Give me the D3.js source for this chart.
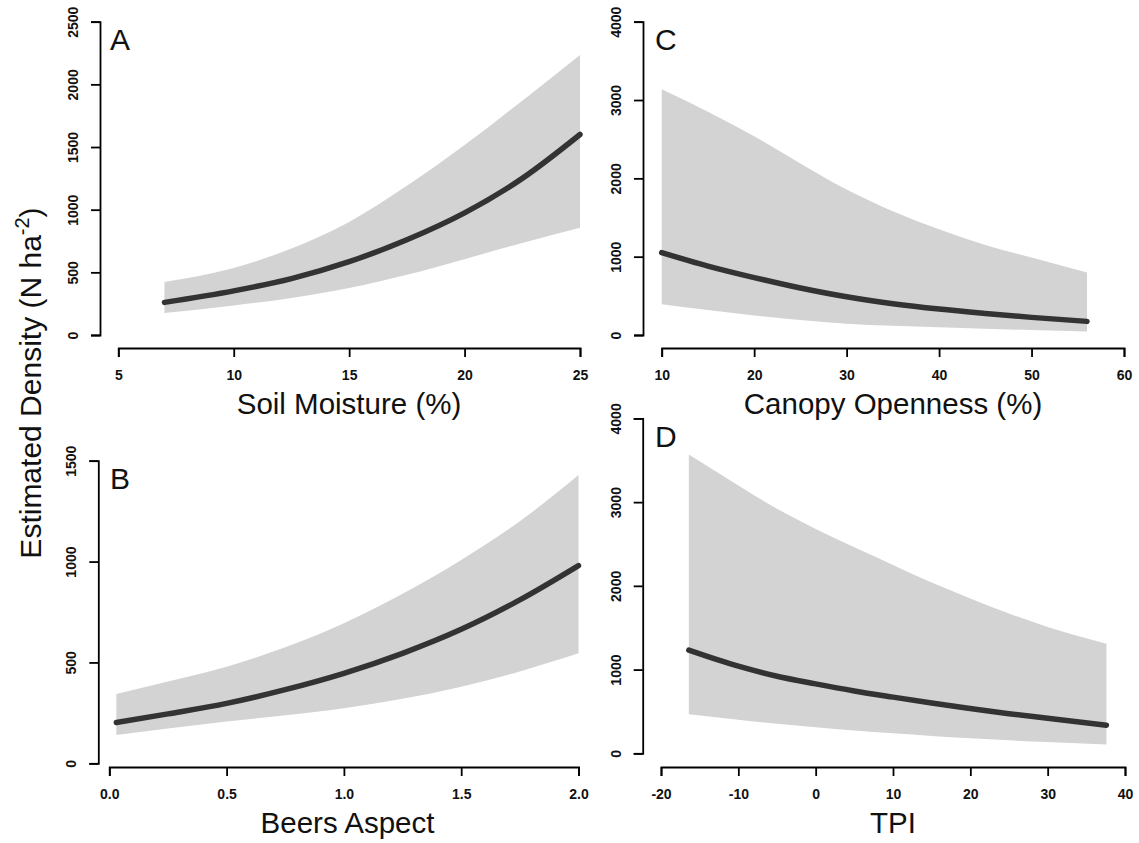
<!DOCTYPE html>
<html>
<head>
<meta charset="utf-8">
<script src="https://cdn.jsdelivr.net/npm/d3@7"></script>
<style>
  html, body { margin: 0; padding: 0; background: #ffffff; }
  svg { display: block; }
</style>
</head>
<body>
<svg id="chart" width="1139" height="843"></svg>
<script>
// ---------- DATA ----------
// Panel A: Soil Moisture (%)
const soilX     = [7, 10, 12.5, 15, 17.5, 20, 22.5, 25];
const soilFit   = [260, 352, 450, 585, 760, 975, 1250, 1600];
const soilUpper = [423, 535, 690, 902, 1190, 1516, 1870, 2234];
const soilLower = [175, 235, 295, 375, 480, 605, 735, 856];
const soilXTicks = [5, 10, 15, 20, 25];
const soilYTicks = [0, 500, 1000, 1500, 2000, 2500];

// Panel B: Beers Aspect
const aspectX     = [0.03, 0.25, 0.5, 0.75, 1.0, 1.25, 1.5, 1.75, 2.0];
const aspectFit   = [202, 245, 297, 365, 446, 545, 664, 810, 980];
const aspectUpper = [344, 405, 479, 575, 694, 840, 1008, 1200, 1429];
const aspectLower = [140, 172, 207, 238, 273, 320, 380, 455, 545];
const aspectXTicks = [0.0, 0.5, 1.0, 1.5, 2.0];
const aspectYTicks = [0, 500, 1000, 1500];

// Panel C: Canopy Openness (%)
const canopyX     = [10, 15, 20, 25, 30, 35, 40, 45, 50, 56];
const canopyFit   = [1052, 880, 733, 600, 488, 400, 331, 275, 225, 174];
const canopyUpper = [3138, 2850, 2536, 2190, 1857, 1580, 1349, 1150, 988, 797];
const canopyLower = [394, 320, 250, 190, 145, 118, 98, 80, 64, 45];
const canopyXTicks = [10, 20, 30, 40, 50, 60];
const canopyYTicks = [0, 1000, 2000, 3000, 4000];

// Panel D: TPI
const tpiX     = [-16.4, -10, -5, 0, 5, 10, 15, 20, 25, 30, 37.6];
const tpiFit   = [1232, 1040, 920, 829, 745, 671, 600, 535, 473, 418, 335];
const tpiUpper = [3570, 3200, 2920, 2680, 2460, 2250, 2040, 1850, 1670, 1510, 1309];
const tpiLower = [467, 400, 352, 310, 272, 238, 208, 180, 155, 135, 106];
const tpiXTicks = [-20, -10, 0, 10, 20, 30, 40];
const tpiYTicks = [0, 1000, 2000, 3000, 4000];

// ---------- LAYOUT ----------
const FONT = "'Liberation Sans', Arial, Helvetica, sans-serif";
const intFmt = d => String(d);
const panels = [
  { letter: "A", title: "Soil Moisture (%)", x: soilX, fit: soilFit, up: soilUpper, lo: soilLower,
    xt: soilXTicks, yt: soilYTicks, fmt: intFmt,
    xr: [118.3, 580], yr: [335, 21.7], axX: 100, axY: 348, titleX: 349, titleY: 414, letterX: 110, letterY: 50 },
  { letter: "B", title: "Beers Aspect", x: aspectX, fit: aspectFit, up: aspectUpper, lo: aspectLower,
    xt: aspectXTicks, yt: aspectYTicks, fmt: d3.format(".1f"),
    xr: [109.3, 578.5], yr: [763.3, 460.7], axX: 98.3, axY: 767, titleX: 347.5, titleY: 833, letterX: 110, letterY: 489 },
  { letter: "C", title: "Canopy Openness (%)", x: canopyX, fit: canopyFit, up: canopyUpper, lo: canopyLower,
    xt: canopyXTicks, yt: canopyYTicks, fmt: intFmt,
    xr: [661.7, 1124], yr: [335, 21.7], axX: 643, axY: 348, titleX: 893, titleY: 414, letterX: 655, letterY: 50 },
  { letter: "D", title: "TPI", x: tpiX, fit: tpiFit, up: tpiUpper, lo: tpiLower,
    xt: tpiXTicks, yt: tpiYTicks, fmt: intFmt,
    xr: [661, 1125], yr: [753.3, 418.4], axX: 642.7, axY: 767, titleX: 893, titleY: 833, letterX: 655, letterY: 447 }
];

const svg = d3.select("#chart");
svg.append("rect").attr("width", 1139).attr("height", 843).attr("fill", "#ffffff");

panels.forEach(p => {
  const xs = d3.scaleLinear().domain([p.xt[0], p.xt[p.xt.length - 1]]).range(p.xr);
  const ys = d3.scaleLinear().domain([p.yt[0], p.yt[p.yt.length - 1]]).range(p.yr);
  const rows = p.x.map((v, i) => ({ x: v, fit: p.fit[i], up: p.up[i], lo: p.lo[i] }));

  const g = svg.append("g");

  // confidence band
  g.append("path")
    .datum(rows)
    .attr("fill", "#d3d3d3")
    .attr("stroke", "none")
    .attr("d", d3.area().curve(d3.curveMonotoneX)
      .x(d => xs(d.x)).y0(d => ys(d.lo)).y1(d => ys(d.up)));

  // fitted line
  g.append("path")
    .datum(rows)
    .attr("fill", "none")
    .attr("stroke", "#333333")
    .attr("stroke-width", 5.5)
    .attr("stroke-linecap", "round")
    .attr("d", d3.line().curve(d3.curveMonotoneX)
      .x(d => xs(d.x)).y(d => ys(d.fit)));

  // x axis
  const gx = g.append("g")
    .attr("transform", `translate(0,${p.axY})`)
    .call(d3.axisBottom(xs).tickValues(p.xt).tickFormat(p.fmt).tickSize(9).tickSizeOuter(9));
  gx.selectAll("path.domain, line").attr("stroke", "#000").attr("stroke-width", 1.8);
  gx.selectAll("text")
    .attr("y", 32).attr("dy", null)
    .attr("fill", "#111")
    .style("font-family", FONT).style("font-size", "14px").style("font-weight", "bold");

  // y axis
  const gy = g.append("g")
    .attr("transform", `translate(${p.axX},0)`)
    .call(d3.axisLeft(ys).tickValues(p.yt).tickFormat(intFmt).tickSize(9).tickSizeOuter(9));
  gy.selectAll("path.domain, line").attr("stroke", "#000").attr("stroke-width", 1.8);
  gy.selectAll("text")
    .attr("x", 0).attr("y", -22).attr("dy", null)
    .attr("text-anchor", "middle")
    .attr("transform", "rotate(-90)")
    .attr("fill", "#111")
    .style("font-family", FONT).style("font-size", "14px").style("font-weight", "bold");
  svg.selectAll(".domain").attr("fill", "none");

  // axis title
  svg.append("text")
    .attr("x", p.titleX).attr("y", p.titleY)
    .attr("text-anchor", "middle")
    .attr("fill", "#111")
    .style("font-family", FONT).style("font-size", "29.5px")
    .text(p.title);

  // panel letter
  svg.append("text")
    .attr("x", p.letterX).attr("y", p.letterY)
    .attr("fill", "#111")
    .style("font-family", FONT).style("font-size", "30px")
    .text(p.letter);
});

// shared y-axis title
const yt = svg.append("text")
  .attr("transform", "translate(41,383) rotate(-90)")
  .attr("text-anchor", "middle")
  .attr("fill", "#111")
  .style("font-family", FONT).style("font-size", "30px");
yt.append("tspan").text("Estimated Density (N ha");
yt.append("tspan").attr("dy", -12).style("font-size", "20px").text("-2");
yt.append("tspan").attr("dy", 12).text(")");
</script>
</body>
</html>
